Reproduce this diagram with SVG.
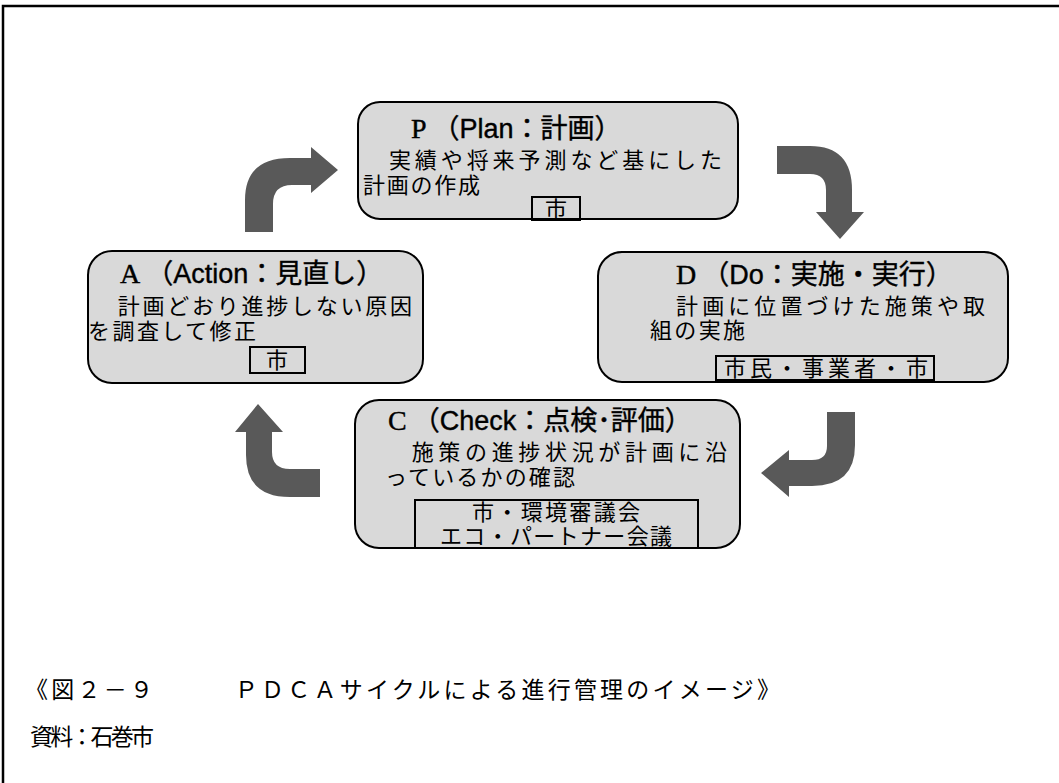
<svg xmlns="http://www.w3.org/2000/svg" width="1059" height="783" viewBox="0 0 1059 783">
<style>
.box{fill:#d9d9d9;stroke:#000;stroke-width:2}
.tag{fill:none;stroke:#000;stroke-width:2}
.arr{fill:#595959}
.ttl{font-family:"Liberation Sans","Noto Sans CJK JP",sans-serif;font-size:27px;fill:#000;stroke:#000;stroke-width:0.4}
.ser{font-family:"Liberation Serif","Noto Sans CJK JP",serif;font-size:28px}
.body{font-family:"Liberation Serif","Noto Sans CJK JP",serif;font-size:22px;fill:#000}
.cap{font-family:"Liberation Serif","Noto Sans CJK JP",serif;font-size:23px;fill:#000}
</style>
<rect x="3" y="6" width="1100" height="820" fill="#fff" stroke="#000" stroke-width="2.5"/>
<g id="connectors">
<path class="arr" d="M245 232 L245 200 Q245 158 290 158 L311 158 L311 147 L338 170 L311 193 L311 185 L292 185 Q273 185 273 204 L273 232 Z"/>
<path class="arr" d="M777 146 L810 146 Q852 146 852 190 L852 212 L864 212 L840 239 L816 212 L826 212 L826 190 Q826 174 810 174 L777 174 Z"/>
<path class="arr" d="M827 412 L855 412 L855 445 Q855 486 812 486 L789 486 L789 497 L761 473 L789 450 L789 460 L812 460 Q827 460 827 446 Z"/>
<path class="arr" d="M320 469 L290 469 Q272 469 272 452 L272 432 L283 432 L258 404 L235 432 L246 432 L246 455 Q246 497 290 497 L320 497 Z"/>
</g>
<g id="node-P">
<rect class="box" x="358" y="102" width="380" height="117" rx="22"/>
<text class="ttl" x="411" y="138"><tspan class="ser">P</tspan><tspan dx="6">（Plan：計画）</tspan></text>
<text class="body" x="363" y="168" textLength="359" lengthAdjust="spacing">　実績や将来予測など基にした</text>
<text class="body" x="363" y="193" textLength="117" lengthAdjust="spacing">計画の作成</text>
<rect class="tag" x="532" y="197" width="48" height="23"/>
<text class="body" x="556" y="217" text-anchor="middle">市</text>
</g>
<g id="node-A">
<rect class="box" x="88" y="251" width="335" height="132" rx="24"/>
<text class="ttl" x="120" y="283"><tspan class="ser">A</tspan><tspan dx="6">（Action：見直し）</tspan></text>
<text class="body" x="93" y="314" textLength="319" lengthAdjust="spacing">　計画どおり進捗しない原因</text>
<text class="body" x="88" y="339" textLength="168" lengthAdjust="spacing">を調査して修正</text>
<rect class="tag" x="250" y="347" width="55" height="26"/>
<text class="body" x="277" y="368" text-anchor="middle">市</text>
</g>
<g id="node-D">
<rect class="box" x="598" y="252" width="410" height="130" rx="24"/>
<text class="ttl" x="676" y="284"><tspan class="ser">D</tspan><tspan dx="6">（Do：実施・実行）</tspan></text>
<text class="body" x="650" y="314" textLength="335" lengthAdjust="spacing">　計画に位置づけた施策や取</text>
<text class="body" x="650" y="338" textLength="95" lengthAdjust="spacing">組の実施</text>
<rect class="tag" x="716" y="356" width="218" height="24"/>
<text class="body" x="826" y="376" text-anchor="middle" textLength="204" lengthAdjust="spacing">市民・事業者・市</text>
</g>
<g id="node-C">
<rect class="box" x="355" y="400" width="385" height="148" rx="24"/>
<text class="ttl" x="388" y="430"><tspan class="ser">C</tspan><tspan dx="6">（Check：点検･評価）</tspan></text>
<text class="body" x="385" y="460" textLength="342" lengthAdjust="spacing">　施策の進捗状況が計画に沿</text>
<text class="body" x="385" y="485" textLength="190" lengthAdjust="spacing">っているかの確認</text>
<rect class="tag" x="415" y="500" width="283" height="48"/>
<text class="body" x="556" y="520" text-anchor="middle" textLength="168" lengthAdjust="spacing">市・環境審議会</text>
<text class="body" x="556" y="544" text-anchor="middle" textLength="232" lengthAdjust="spacing">エコ・パートナー会議</text>
</g>
<g id="caption">
<text class="cap" x="25" y="698" textLength="755" lengthAdjust="spacing">《図２－９　　　ＰＤＣＡサイクルによる進行管理のイメージ》</text>
<text class="cap" x="30" y="745" textLength="124" lengthAdjust="spacing">資料：石巻市</text>
</g>
</svg>
